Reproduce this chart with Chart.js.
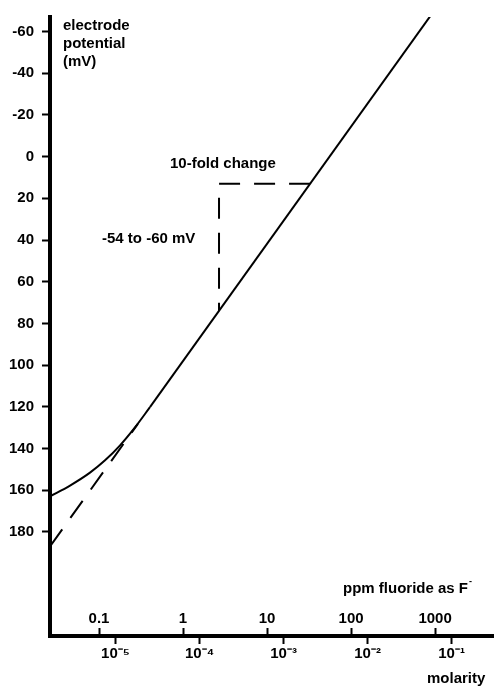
<!DOCTYPE html>
<html>
<head>
<meta charset="utf-8">
<script src="https://cdn.jsdelivr.net/npm/chart.js@4.4.1/dist/chart.umd.min.js"></script>
<style>
  body { margin: 0; background: #fff; }
  canvas { display: block; }
</style>
</head>
<body>
<canvas id="grafico" width="494" height="686"></canvas>
<script>
// valores (x em ppm, y em mV)
const curvaPpm = [0.0261, 0.0452, 0.0781, 0.118, 0.178, 0.268, 0.404];
const curvaMv = [163.0, 157.8, 151.6, 145.7, 138.5, 129.9, 120.2];

const retaPpm = [0.404, 871];
const retaMv = [120.2, -67.3];

const extensaoPpm = [0.0261, 0.29];
const extensaoMv = [187.0, 128.2];

const degrauPpm = [32.5, 2.68, 2.68];
const degrauMv = [13, 13, 73.9];

const mvTicks = [-60, -40, -20, 0, 20, 40, 60, 80, 100, 120, 140, 160, 180];
const ppmTicks = [0.1, 1, 10, 100, 1000];
const ppmLabels = ['0.1', '1', '10', '100', '1000'];
const molarTicks = [0.157, 1.57, 15.7, 157, 1570];
const molarLabels = ['10\u207B\u2075', '10\u207B\u2074', '10\u207B\u00B3', '10\u207B\u00B2', '10\u207B\u00B9'];

const fonte = '"Liberation Sans", Arial, sans-serif';

function pontos(xs, ys) {
  return xs.map((x, i) => ({ x: x, y: ys[i] }));
}

const textos = {
  id: 'textos',
  afterDraw(chart) {
    const c = chart.ctx;
    c.save();
    c.fillStyle = '#000';
    c.font = 'bold 15px ' + fonte;
    c.textAlign = 'left';
    c.textBaseline = 'middle';
    c.fillText('electrode', 63, 26);
    c.fillText('potential', 63, 44);
    c.fillText('(mV)', 63, 62);
    c.fillText('10-fold change', 170, 164);
    c.fillText('-54 to -60 mV', 102, 239);
    c.fillText('ppm fluoride as F', 343, 589);
    const w = c.measureText('ppm fluoride as F').width;
    c.font = 'bold 9px ' + fonte;
    c.fillText('-', 343 + w + 1, 582);
    c.font = 'bold 15px ' + fonte;
    c.fillText('molarity', 427, 679);
    c.restore();
  }
};

const ctx = document.getElementById('grafico');

new Chart(ctx, {
  type: 'line',
  data: {
    datasets: [
      {
        data: pontos(curvaPpm, curvaMv),
        borderColor: '#000',
        borderWidth: 2,
        pointRadius: 0,
        cubicInterpolationMode: 'monotone'
      },
      {
        data: pontos(retaPpm, retaMv),
        borderColor: '#000',
        borderWidth: 2,
        pointRadius: 0
      },
      {
        data: pontos(extensaoPpm, extensaoMv),
        borderColor: '#000',
        borderWidth: 2,
        borderDash: [21, 14],
        pointRadius: 0
      },
      {
        data: pontos(degrauPpm, degrauMv),
        borderColor: '#000',
        borderWidth: 2,
        borderDash: [21, 14],
        pointRadius: 0
      }
    ]
  },
  options: {
    responsive: false,
    animation: false,
    layout: { padding: { top: 14, right: 0, bottom: 50, left: 0 } },
    plugins: { legend: { display: false }, tooltip: { enabled: false } },
    scales: {
      x: {
        type: 'logarithmic',
        position: { y: 230 },
        min: 0.0261,
        max: 5020,
        bounds: 'data',
        afterBuildTicks: (s) => { s.ticks = molarTicks.map(v => ({ value: v })); },
        ticks: {
          autoSkip: false,
          maxRotation: 0,
          padding: 3,
          color: '#000',
          font: { family: fonte, size: 15, weight: 'bold' },
          callback: (v, i) => molarLabels[i]
        },
        grid: { drawOnChartArea: false, tickLength: 6, tickWidth: 2, tickColor: '#000' },
        border: { display: true, width: 4, color: '#000' }
      },
      ppm: {
        type: 'logarithmic',
        axis: 'x',
        position: { y: 230 },
        min: 0.0261,
        max: 5020,
        bounds: 'data',
        afterBuildTicks: (s) => { s.ticks = ppmTicks.map(v => ({ value: v })); },
        ticks: {
          autoSkip: false,
          maxRotation: 0,
          mirror: true,
          padding: 0,
          color: '#000',
          font: { family: fonte, size: 15, weight: 'bold' },
          callback: (v, i) => ppmLabels[i]
        },
        grid: { drawOnChartArea: false, tickLength: -8, tickWidth: 2, tickColor: '#000' },
        border: { display: false }
      },
      y: {
        type: 'linear',
        position: 'left',
        reverse: true,
        min: -67,
        max: 230,
        bounds: 'data',
        afterFit: (s) => { s.width = 50; },
        afterBuildTicks: (s) => { s.ticks = mvTicks.map(v => ({ value: v })); },
        ticks: {
          padding: 8,
          color: '#000',
          font: { family: fonte, size: 15, weight: 'bold' }
        },
        grid: { drawOnChartArea: false, tickLength: 8, tickWidth: 2, tickColor: '#000' },
        border: { display: true, width: 4, color: '#000' }
      }
    }
  },
  plugins: [textos]
});
</script>
</body>
</html>
